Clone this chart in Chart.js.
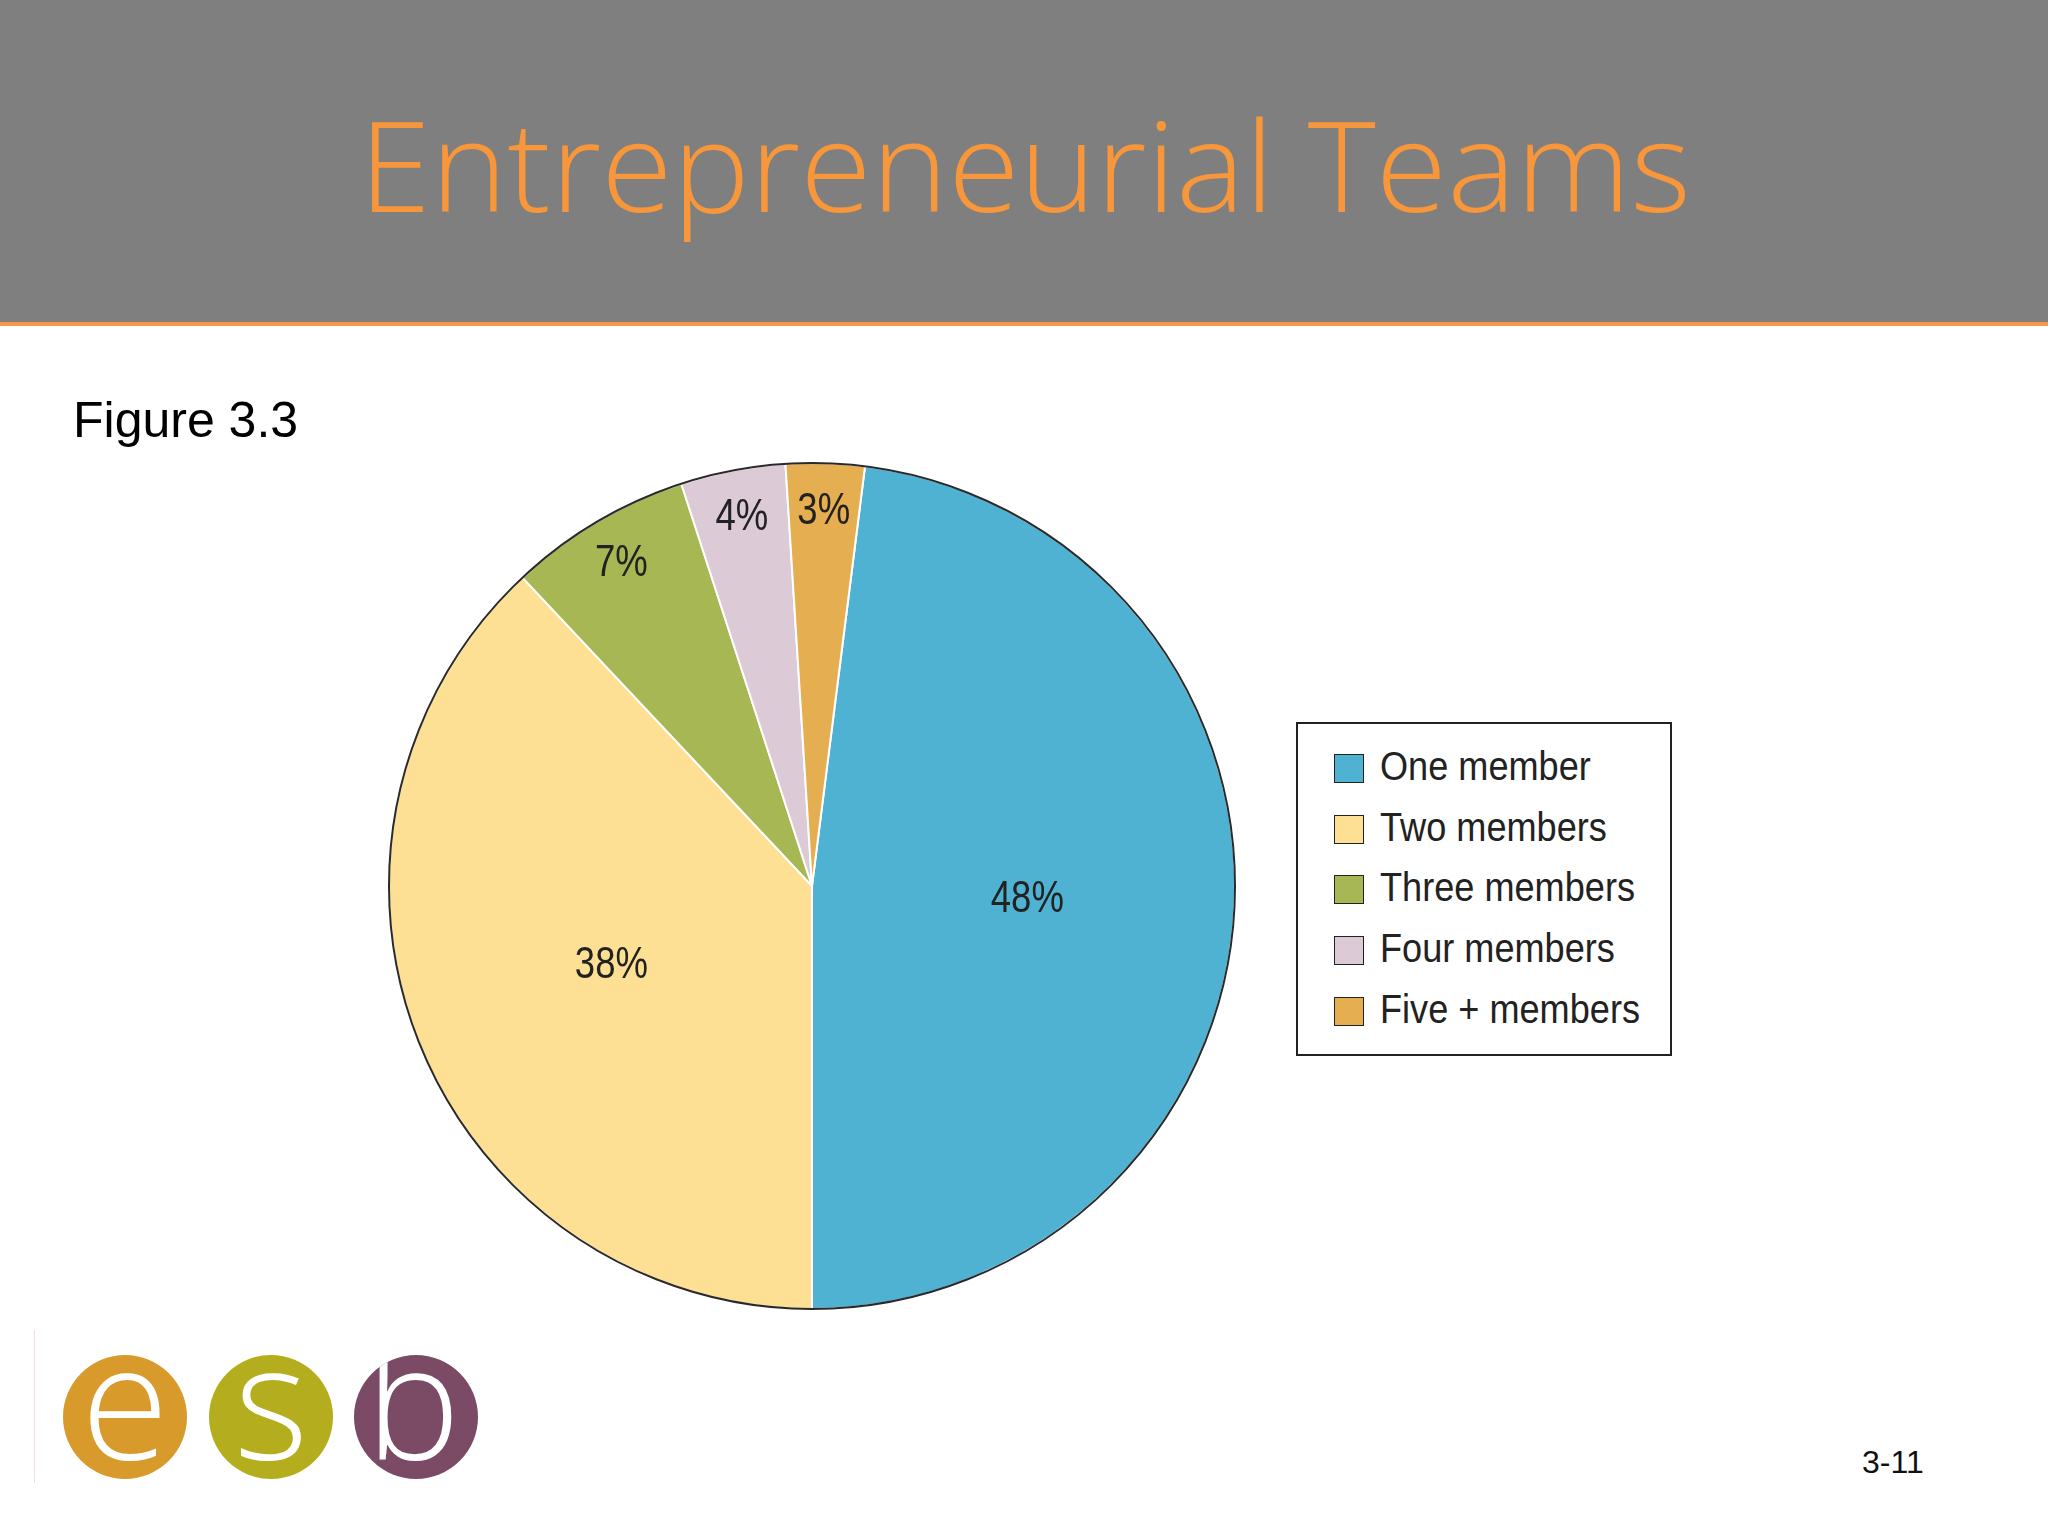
<!DOCTYPE html>
<html>
<head>
<meta charset="utf-8">
<title>Entrepreneurial Teams</title>
<script src="https://cdn.jsdelivr.net/npm/chart.js@4.4.1/dist/chart.umd.min.js"></script>
<style>
  html, body { margin: 0; padding: 0; }
  body { width: 2048px; height: 1536px; position: relative; overflow: hidden; background: #ffffff; font-family: "Liberation Sans", Arial, sans-serif; }
  #header { position: absolute; left: 0; top: 0; width: 2048px; height: 322px; background: #7f7f7f; border-bottom: 4px solid #f79646; }
  #title { position: absolute; left: 359px; top: 100px; font-family: "Open Sans", Inter, sans-serif; font-weight: 300; font-size: 126px; line-height: 1; color: #f7963a; white-space: nowrap; transform-origin: 0 0; }
  #figure-label { position: absolute; left: 73px; top: 395px; font-size: 50px; line-height: 1; color: #000; }
  #pie-wrap { position: absolute; left: 382px; top: 456px; width: 860px; height: 860px; }
  #legend { position: absolute; left: 1296px; top: 722px; width: 372px; height: 330px; border: 2px solid #222; background: #fff; }
  .legend-row { position: absolute; left: 36px; height: 30px; }
  .legend-swatch { position: absolute; left: 0; top: 0; width: 28px; height: 27px; border: 1.5px solid #222; }
  .legend-text { position: absolute; left: 46px; top: -8px; font-family: "Liberation Sans", Arial, sans-serif; font-size: 41px; line-height: 1; color: #222; white-space: nowrap; transform-origin: 0 0; }
  #page-num { position: absolute; left: 1862px; top: 1446px; font-size: 32px; line-height: 1; color: #111; }
  #logo-line { position: absolute; left: 34px; top: 1330px; width: 1px; height: 153px; background: #f3dde4; }
  .logo-circle { position: absolute; top: 1355px; width: 124px; height: 124px; border-radius: 50%; overflow: hidden; }
  .logo-letter { position: absolute; left: 0; top: -37px; width: 100%; text-align: center; font-family: "Open Sans", sans-serif; font-weight: 300; font-size: 159px; line-height: 1; color: #fff; }
</style>
</head>
<body>
<div id="header"><div id="title">Entrepreneurial Teams</div></div>
<div id="figure-label">Figure 3.3</div>
<div id="pie-wrap"><canvas id="teamsPie"></canvas></div>
<div id="legend"></div>
<div id="logo-line"></div>
<div class="logo-circle" style="left:63px;background:#d89b2b;"><span class="logo-letter">e</span></div>
<div class="logo-circle" style="left:209px;background:#b4ae1f;"><span class="logo-letter">s</span></div>
<div class="logo-circle" style="left:354px;background:#7b4a65;"><span class="logo-letter" style="left:-3px;">b</span></div>
<div id="page-num">3-11</div>

<script>
// Figure 3.3 - size of entrepreneurial teams (share of new firms)
const teamLabels = ['One member', 'Two members', 'Three members', 'Four members', 'Five + members'];
const teamShares = [48, 38, 7, 4, 3];
const sliceColors = ['#4fb2d3', '#fde094', '#a6b753', '#dccad6', '#e5ae51'];

// Condensed look: Liberation Sans squeezed horizontally
const labelFont = '44px "Liberation Sans", Arial, sans-serif';
const labelSqueeze = 0.83;

// Stretch/squeeze a text element so it spans a given width
function fitWidth(el, target) {
  const w = el.getBoundingClientRect().width;
  if (w > 0) el.style.transform = `scaleX(${target / w})`;
}

// Build the boxed legend on the right
function buildLegend() {
  const legend = document.getElementById('legend');
  const rowTops = [30, 91, 151, 212, 273];
  legend.innerHTML = teamLabels.map((label, i) => `
    <div class="legend-row" style="top:${rowTops[i]}px">
      <div class="legend-swatch" style="background:${sliceColors[i]}"></div>
      <div class="legend-text">${label}</div>
    </div>
  `).join('');
}

// Percent labels inside the slices, thin slices get them near the rim
const sliceLabels = {
  id: 'sliceLabels',
  afterDatasetsDraw(chart) {
    const ctx = chart.ctx;
    const meta = chart.getDatasetMeta(0);
    const values = chart.data.datasets[0].data;
    meta.data.forEach((arc, i) => {
      const mid = (arc.startAngle + arc.endAngle) / 2;
      const r = arc.outerRadius * (values[i] < 10 ? 0.885 : 0.51);
      ctx.save();
      ctx.translate(arc.x + Math.cos(mid) * r, arc.y + Math.sin(mid) * r);
      ctx.scale(labelSqueeze, 1);
      ctx.font = labelFont;
      ctx.fillStyle = '#222';
      ctx.textAlign = 'center';
      ctx.textBaseline = 'middle';
      ctx.fillText(values[i] + '%', 0, 0);
      ctx.restore();
    });
  }
};

// Dark rim round the whole pie (slices themselves are split by white lines)
const pieRim = {
  id: 'pieRim',
  afterDatasetsDraw(chart) {
    const arc = chart.getDatasetMeta(0).data[0];
    if (!arc) return;
    const ctx = chart.ctx;
    ctx.save();
    ctx.beginPath();
    ctx.arc(arc.x, arc.y, arc.outerRadius, 0, Math.PI * 2);
    ctx.lineWidth = 2;
    ctx.strokeStyle = '#2a2a2a';
    ctx.stroke();
    ctx.restore();
  }
};

function drawPie() {
  const ctx = document.getElementById('teamsPie').getContext('2d');
  new Chart(ctx, {
    type: 'pie',
    data: {
      labels: teamLabels,
      datasets: [{
        data: teamShares,
        backgroundColor: sliceColors,
        borderColor: '#ffffff',
        borderWidth: 2
      }]
    },
    options: {
      responsive: true,
      maintainAspectRatio: false,
      animation: false,
      rotation: 7.2,
      layout: { padding: 6 },
      plugins: {
        legend: { display: false },
        tooltip: { enabled: false }
      }
    },
    plugins: [sliceLabels, pieRim]
  });
}

buildLegend();
drawPie();

document.fonts.ready.then(() => {
  fitWidth(document.getElementById('title'), 1332);
  const texts = document.querySelectorAll('.legend-text');
  const ref = texts[2].getBoundingClientRect().width;
  texts.forEach(t => { t.style.transform = `scaleX(${255 / ref})`; });
});
</script>
</body>
</html>
